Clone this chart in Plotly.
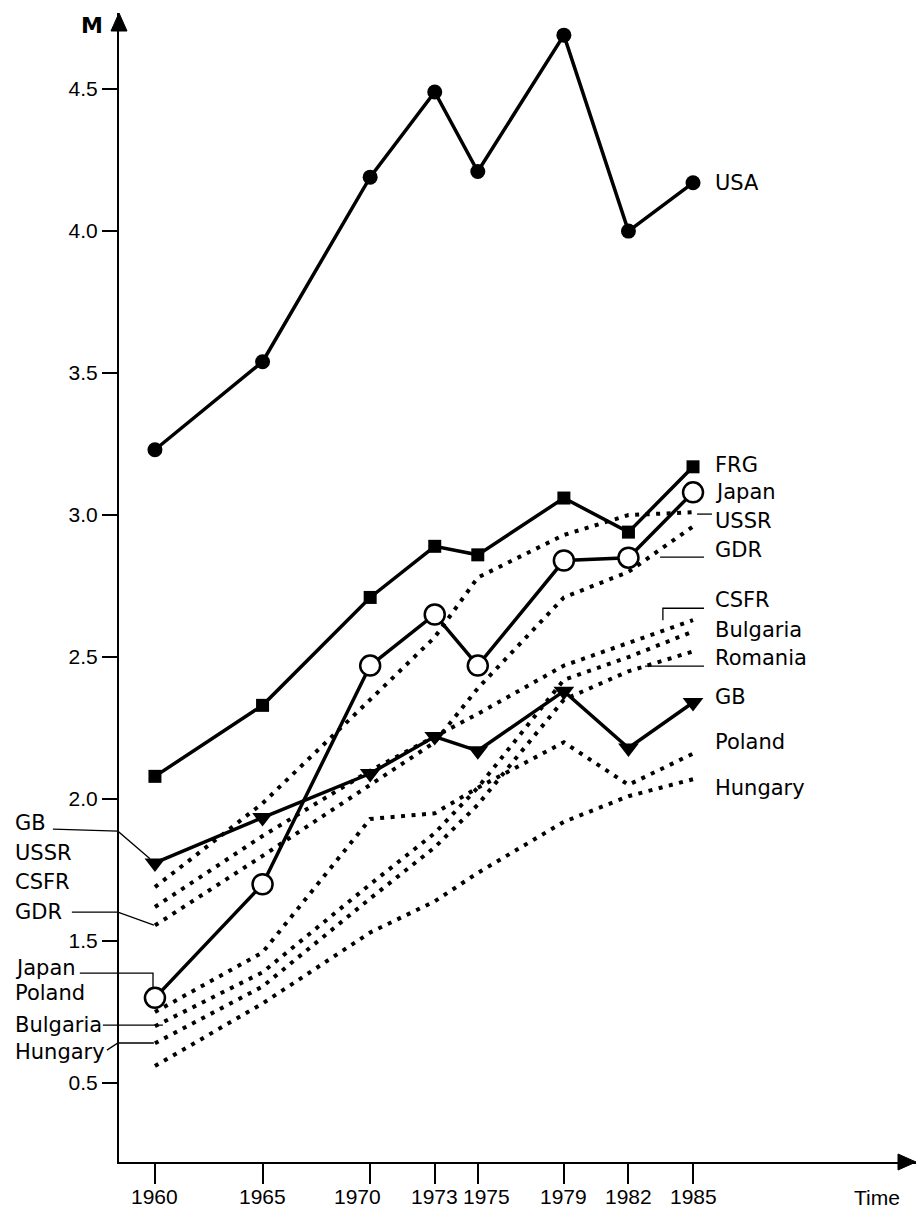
import plotly.graph_objects as go

# Survey years on the horizontal axis
years = [1960, 1965, 1970, 1973, 1975, 1979, 1982, 1985]

# Solid series (with markers)
usa = [3.23, 3.54, 4.19, 4.49, 4.21, 4.69, 4.00, 4.17]
frg = [2.08, 2.33, 2.71, 2.89, 2.86, 3.06, 2.94, 3.17]
japan = [1.30, 1.70, 2.47, 2.65, 2.47, 2.84, 2.85, 3.08]
gb = [1.775, 1.935, 2.09, 2.22, 2.17, 2.38, 2.18, 2.34]

# Dotted series
ussr = [1.69, 1.985, 2.35, 2.57, 2.78, 2.93, 3.00, 3.01]
gdr = [1.555, 1.80, 2.05, 2.20, 2.39, 2.71, 2.80, 2.96]
csfr = [1.62, 1.87, 2.10, 2.22, 2.30, 2.47, 2.55, 2.63]
bulgaria = [1.20, 1.39, 1.70, 1.88, 2.04, 2.42, 2.50, 2.59]
romania = [1.14, 1.34, 1.65, 1.83, 1.98, 2.35, 2.45, 2.52]
poland = [1.25, 1.46, 1.93, 1.95, 2.04, 2.20, 2.05, 2.16]
hungary = [1.06, 1.28, 1.53, 1.64, 1.74, 1.92, 2.01, 2.07]

# Axis ticks
y_tickvals = [1.0, 1.5, 2.0, 2.5, 3.0, 3.5, 4.0, 4.5]
y_ticktext = ["0.5", "1.5", "2.0", "2.5", "3.0", "3.5", "4.0", "4.5"]
x_tickvals = years
x_ticktext = [str(y) for y in years]
# horizontal nudges (px) that keep crowded year labels apart
x_label_nudge = [0, 0, -13, 0, 9, 0, 0, 0]

X_RANGE = [1958.33, 1995.36]
Y_RANGE = [0.722, 4.768]

W, H = 918, 1208
M_L, M_R, M_T, M_B = 119, 2, 13, 46
PW, PH = W - M_L - M_R, H - M_T - M_B

FONT = "DejaVu Sans, Liberation Sans, sans-serif"
NUM_FONT = "Liberation Sans, Arial, sans-serif"
BLACK = "#000000"


def px(x):
    return (x - X_RANGE[0]) / (X_RANGE[1] - X_RANGE[0])


def py(y):
    return (y - Y_RANGE[0]) / (Y_RANGE[1] - Y_RANGE[0])


fig = go.Figure()

solid = [
    ("USA", usa, dict(symbol="circle", size=15, color=BLACK)),
    ("FRG", frg, dict(symbol="square", size=13, color=BLACK)),
    ("GB", gb, dict(symbol="triangle-down", size=18, color=BLACK)),
    ("Japan", japan, dict(symbol="circle", size=20, color="white",
                          line=dict(color=BLACK, width=2.5))),
]
dotted = [
    ("USSR", ussr), ("GDR", gdr), ("CSFR", csfr), ("Bulgaria", bulgaria),
    ("Romania", romania), ("Poland", poland), ("Hungary", hungary),
]

for name, vals in dotted:
    fig.add_trace(go.Scatter(
        x=years, y=vals, name=name, mode="lines",
        line=dict(color=BLACK, width=4, dash="4px,6.5px"),
        cliponaxis=False,
    ))

for name, vals, mk in solid:
    fig.add_trace(go.Scatter(
        x=years, y=vals, name=name, mode="lines+markers",
        line=dict(color=BLACK, width=3.5), marker=mk,
        cliponaxis=False,
    ))

# Series labels on the right
right_labels = [
    ("USA", 4.17), ("FRG", 3.176), ("Japan", 3.08), ("USSR", 2.98),
    ("GDR", 2.877), ("CSFR", 2.70), ("Bulgaria", 2.595), ("Romania", 2.497),
    ("GB", 2.36), ("Poland", 2.20), ("Hungary", 2.04),
]
ann = []
for name, yv in right_labels:
    ann.append(dict(x=1985.93, y=yv, xref="x", yref="y", text=name,
                    showarrow=False, xanchor="left", yanchor="middle",
                    font=dict(family=FONT, size=21, color=BLACK)))

# Series labels on the left, outside the axis
left_labels = [
    ("GB", 1.915), ("USSR", 1.81), ("CSFR", 1.708), ("GDR", 1.602),
    ("Japan", 1.405), ("Poland", 1.317), ("Bulgaria", 1.204), ("Hungary", 1.109),
]
for name, yv in left_labels:
    ann.append(dict(x=-106 / PW, y=yv, xref="paper", yref="y", text=name,
                    showarrow=False, xanchor="left", yanchor="middle",
                    font=dict(family=FONT, size=21, color=BLACK)))

# Year labels under the tick marks
for yr, txt, dx in zip(x_tickvals, x_ticktext, x_label_nudge):
    ann.append(dict(x=yr, y=-34 / PH, xref="x", yref="paper", text=txt,
                    showarrow=False, xanchor="center", yanchor="middle",
                    xshift=dx, font=dict(family=NUM_FONT, size=21, color=BLACK)))

# Axis titles
ann.append(dict(x=-27 / PW, y=1 - 12 / PH, xref="paper", yref="paper", text="<b>M</b>",
                showarrow=False, xanchor="center", yanchor="middle",
                font=dict(family=FONT, size=22, color=BLACK)))
ann.append(dict(x=1 - 39 / PW, y=-35 / PH, xref="paper", yref="paper", text="Time",
                showarrow=False, xanchor="center", yanchor="middle",
                font=dict(family=NUM_FONT, size=21, color=BLACK)))

# Leader lines joining labels to their curves (data units)
leaders = [
    [(1955.26, 1.894), (1958.28, 1.887), (1959.77, 1.79)],
    [(1956.14, 1.602), (1958.28, 1.602), (1959.95, 1.556)],
    [(1956.51, 1.387), (1959.91, 1.387), (1959.91, 1.334)],
    [(1957.58, 1.204), (1960.37, 1.204)],
    [(1957.77, 1.116), (1958.28, 1.141), (1959.95, 1.141)],
    [(1985.88, 3.0035), (1985.19, 3.0035)],
    [(1985.51, 2.852), (1983.47, 2.852)],
    [(1985.51, 2.672), (1983.6, 2.672), (1983.6, 2.63)],
    [(1985.51, 2.468), (1982.77, 2.468)],
]
shapes = []
for pts in leaders:
    path = "M " + " L ".join(f"{px(a):.5f},{py(b):.5f}" for a, b in pts)
    shapes.append(dict(type="path", xref="paper", yref="paper", path=path,
                       line=dict(color=BLACK, width=1.3)))

# Arrow heads at the ends of both axes
ax_w, ax_h = 8 / PW, 18 / PH
shapes.append(dict(type="path", xref="paper", yref="paper",
                   path=f"M 0,1 L {-ax_w},{1 - ax_h} L {ax_w},{1 - ax_h} Z",
                   fillcolor=BLACK, line=dict(color=BLACK, width=1)))
ah_w, ah_h = 18 / PW, 8 / PH
shapes.append(dict(type="path", xref="paper", yref="paper",
                   path=f"M 1,0 L {1 - ah_w},{ah_h} L {1 - ah_w},{-ah_h} Z",
                   fillcolor=BLACK, line=dict(color=BLACK, width=1)))

fig.update_layout(
    width=W, height=H,
    margin=dict(l=M_L, r=M_R, t=M_T, b=M_B, autoexpand=False),
    paper_bgcolor="white", plot_bgcolor="white",
    showlegend=False,
    annotations=ann, shapes=shapes,
    xaxis=dict(range=X_RANGE, showgrid=False, zeroline=False, automargin=False,
               showline=True, linecolor=BLACK, linewidth=2,
               ticks="outside", ticklen=20, tickwidth=1.5, tickcolor=BLACK,
               tickvals=x_tickvals, showticklabels=False),
    yaxis=dict(range=Y_RANGE, showgrid=False, zeroline=False, automargin=False,
               showline=True, linecolor=BLACK, linewidth=2,
               ticks="outside", ticklen=15, tickwidth=2, tickcolor=BLACK,
               tickvals=y_tickvals, ticktext=y_ticktext,
               tickfont=dict(family=NUM_FONT, size=21, color=BLACK)),
)

fig.write_html("out.html")
